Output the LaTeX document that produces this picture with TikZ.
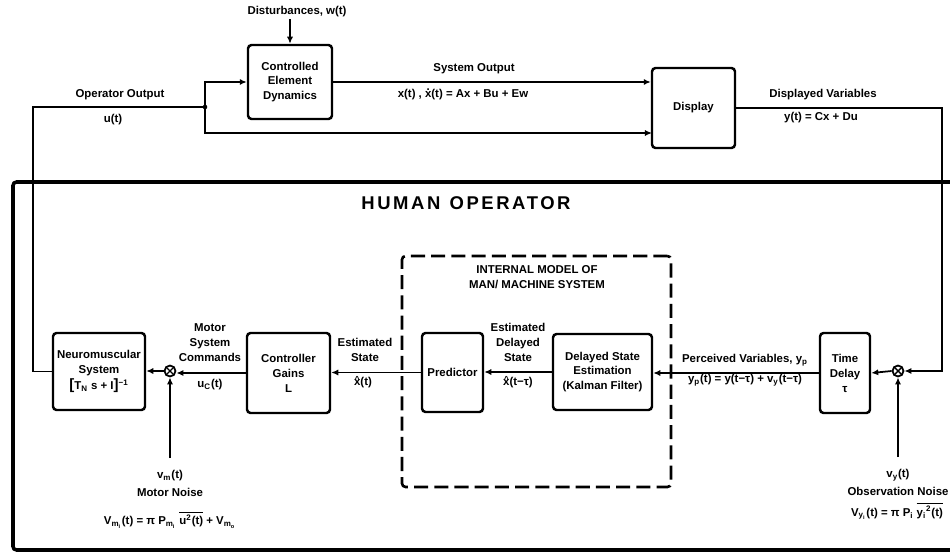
\documentclass[tikz,border=0pt]{standalone}
\usepackage{fontspec}
\setmainfont{Liberation Sans}
\usetikzlibrary{positioning, arrows.meta, calc}
\newcommand{\hatx}{\ooalign{x\cr\hidewidth\raisebox{0.33em}{\fontsize{5}{5}\selectfont\symbol{"5E}}\hidewidth\cr}}
\newcommand{\dotx}{\ooalign{x\cr\hidewidth\raisebox{0.62em}{.}\hidewidth\cr}}

\begin{document}
\begin{tikzpicture}[
    x=0.02cm, y=-0.02cm,
    font=\bfseries\fontsize{6.5}{8.5}\selectfont,
    % Styles
    block_box/.style={
        draw,
        line width=1.4pt,
        rounded corners=2pt,
        align=center,
        inner sep=1pt
    },
    sum_node/.style={
        draw,
        circle,
        line width=1pt,
        minimum size=0.22cm,
        inner sep=0pt,
        path picture={
            \draw[line width=0.8pt]
                (path picture bounding box.north west) -- (path picture bounding box.south east)
                (path picture bounding box.north east) -- (path picture bounding box.south west);
        }
    },
    wire/.style={line width=1pt},
    arrow/.style={wire, -{Latex[length=4pt, width=3.5pt]}},
    sig_label/.style={align=center, inner sep=1pt},
    model_box/.style={draw, line width=1.5pt, dash pattern=on 8pt off 3.5pt, rounded corners=2pt}
]
    \useasboundingbox (0,0) rectangle (950,554);

    % --- PLANT AND DISPLAY ---
    \node[block_box, minimum width=1.68cm, minimum height=1.48cm] (ced) at (290,82)
        {Controlled\\Element\\Dynamics};
    \node[block_box, minimum width=1.66cm, minimum height=1.6cm] (disp) at (693.5,108) {Display};
    \node[sig_label] (dist) at (297,12) {Disturbances, w(t)};
    \coordinate (ujunc) at (205,107);
    \coordinate (disp_in) at (652,133);
    \coordinate (yturn) at (942,371);
    \coordinate (uturn) at (33,371);

    % --- HUMAN OPERATOR FRAME ---
    \draw[line width=2pt, rounded corners=2pt] (950,182) -- (13,182) -- (13,550) -- (950,550);
    \node[font=\bfseries\fontsize{10.5}{12}\selectfont\addfontfeature{LetterSpace=14}] (hotitle) at (466,203)
        {HUMAN\enspace OPERATOR};

    % Internal model (dashed)
    \node[model_box, minimum width=5.38cm, minimum height=4.62cm] (imodel) at (536.5,371.5) {};
    \node[sig_label] (imtitle) at (537,277) {INTERNAL MODEL OF\\MAN/ MACHINE SYSTEM};

    % --- OPERATOR LOOP ---
    \node[block_box, minimum width=1.84cm, minimum height=1.54cm] (nm) at (99,371.5)
        {Neuromuscular\\System\\[1pt]{\fontsize{8.5}{8.5}\selectfont[}T\textsubscript{N} s + I{\fontsize{8.5}{8.5}\selectfont]}\textsuperscript{−1}};
    \node[sum_node] (sum_m) at (170,371) {};
    \node[block_box, minimum width=1.66cm, minimum height=1.6cm] (cg) at (288.5,373) {Controller\\Gains\\L};
    \node[block_box, minimum width=1.22cm, minimum height=1.58cm] (pred) at (452.5,372.5) {Predictor};
    \node[block_box, minimum width=1.98cm, minimum height=1.52cm] (kf) at (602.5,372)
        {Delayed State\\Estimation\\(Kalman Filter)};
    \node[block_box, minimum width=1cm, minimum height=1.6cm] (td) at (845,373) {Time\\Delay\\τ};
    \node[sum_node] (sum_y) at (898,371) {};
    \coordinate (vm_in) at (170,458);
    \coordinate (vy_in) at (898,457);

    % --- LABELS ---
    \node[sig_label] (uout) at (120,95) {Operator Output};
    \node[sig_label] (usig) at (113,120) {u(t)};
    \node[sig_label] (sysout) at (474,69) {System Output};
    \node[sig_label] (xeq) at (463,95) {x(t) , \dotx(t) = Ax + Bu + Ew};
    \node[sig_label] (dvar) at (823,95) {Displayed Variables};
    \node[sig_label] (yeq) at (821,118) {y(t) = Cx + Du};
    \node[sig_label] (mcmd) at (210,343) {Motor\\System\\Commands};
    \node[sig_label] (ucsig) at (210,385) {u\textsubscript{C}(t)};
    \node[sig_label] (estate) at (365,350) {Estimated\\State};
    \node[sig_label] (xhat) at (363,383) {\hatx(t)};
    \node[sig_label] (edstate) at (518,342) {Estimated\\Delayed\\State};
    \node[sig_label] (xhatd) at (518,383) {\hatx(t−τ)};
    \node[sig_label] (pvar) at (745,360) {Perceived Variables, y\textsubscript{p}};
    \node[sig_label] (ypeq) at (745,380) {y\textsubscript{p}(t) = y(t−τ) + v\textsubscript{y}(t−τ)};
    \node[sig_label, below=0.2cm of vm_in] (vmsig) {v\textsubscript{m}(t)\\[2pt]Motor Noise};
    \node[sig_label] (vmeq) at (170,520)
        {V\textsubscript{m\textsubscript{i}}(t) = π P\textsubscript{m\textsubscript{i}}
        $\overline{\hbox{u\textsuperscript{2}(t)}}$ + V\textsubscript{m\textsubscript{o}}};
    \node[sig_label, below=0.2cm of vy_in] (vysig) {v\textsubscript{y}(t)\\[2pt]Observation Noise};
    \node[sig_label] (vyeq) at (897,511)
        {V\textsubscript{y\textsubscript{i}}(t) = π P\textsubscript{i}
        $\overline{\hbox{y\textsubscript{i}\textsuperscript{2}(t)}}$};

    % --- ARROWS ---
    \draw[arrow] (dist.south -| ced.north) -- (ced.north);
    \draw[arrow] (ujunc) |- (ced.west);
    \draw[arrow] (ujunc) |- (disp_in);
    \draw[arrow] (ced.east) -- (ced.east -| disp.west);
    \draw[arrow] (disp.east) -| (yturn) -- (sum_y.east);
    \draw[arrow] (vy_in) -- (sum_y.south);
    \draw[arrow] (sum_y.west) -- (td.east);
    \draw[arrow] (td.west) -- (td.west -| kf.east);
    \draw[arrow] (kf.west) -- (kf.west -| pred.east);
    \draw[arrow] (pred.west) -- (pred.west -| cg.east);
    \draw[arrow] (cg.west) -- (cg.west -| sum_m.east);
    \draw[arrow] (vm_in) -- (sum_m.south);
    \draw[arrow] (sum_m.west) -- (sum_m.west -| nm.east);
    \draw[wire] (nm.west) -- (nm.west -| uturn) |- (ujunc);
    \fill (ujunc) circle (1.3pt);

\end{tikzpicture}
\end{document}
